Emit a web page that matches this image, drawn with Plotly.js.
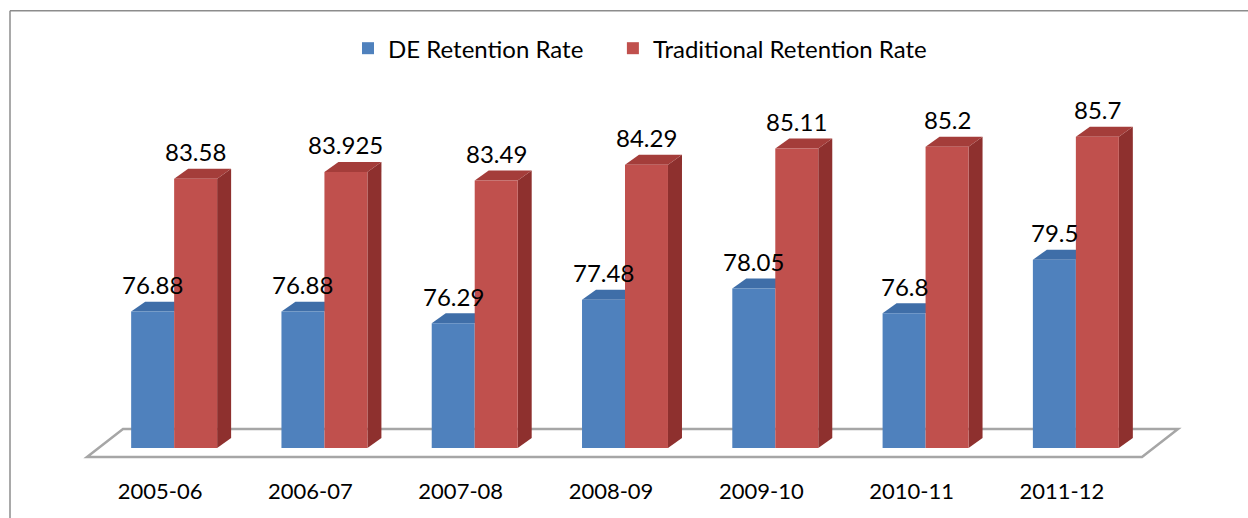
<!DOCTYPE html>
<html>
<head>
<meta charset="utf-8">
<script src="https://cdn.plot.ly/plotly-3.0.1.min.js"></script>
<style>html,body{margin:0;padding:0;background:#fff;}#chart{width:1248px;height:518px;}</style>
</head>
<body>
<div id="chart"></div>
<script>
// ---- data ----
const categories = ["2005-06", "2006-07", "2007-08", "2008-09", "2009-10", "2010-11", "2011-12"];
const deRetention = [76.88, 76.88, 76.29, 77.48, 78.05, 76.8, 79.5];
const traditionalRetention = [83.58, 83.925, 83.49, 84.29, 85.11, 85.2, 85.7];
const deLabels = ["76.88", "76.88", "76.29", "77.48", "78.05", "76.8", "79.5"];
const tradLabels = ["83.58", "83.925", "83.49", "84.29", "85.11", "85.2", "85.7"];
const seriesNames = ["DE Retention Rate", "Traditional Retention Rate"];

// ---- layout geometry ----
const WIDTH = 1248, HEIGHT = 518;
const M = {l: 99, r: 97, t: 110.5, b: 70};
const plotW = WIDTH - M.l - M.r, plotH = HEIGHT - M.t - M.b;
const yBase = 70, yTop = 87;
const xRange = [-0.5, categories.length - 0.5];
const barW = 0.286;
const depthX = 14 * (xRange[1] - xRange[0]) / plotW;   // 3D depth offset in data units
const depthY = 10 * (yTop - yBase) / plotH;
const FONT = "Lato, 'Open Sans', sans-serif";

const blue = "#4F81BD", blueTop = "#3F6EA8";
const red = "#C0504D", redTop = "#A43D3A", redSide = "#8E302E";

// helpers: pixel -> paper
const px2paperX = p => (p - M.l) / plotW;
const px2paperY = p => (HEIGHT - M.b - p) / plotH;

const xs = categories.map((c, i) => i);
const deLen = deRetention.map(v => v - yBase);
const trLen = traditionalRetention.map(v => v - yBase);
const legendPad = "\u00a0\u00a0\u00a0\u00a0";

const traces = [
  {type: "bar", name: seriesNames[0] + legendPad, x: xs, y: deLen, base: yBase, width: barW, offset: -barW,
   marker: {color: blue, line: {width: 0}}, hoverinfo: "skip"},
  {type: "bar", name: seriesNames[1], x: xs, y: trLen, base: yBase, width: barW, offset: 0,
   marker: {color: red, line: {width: 0}}, hoverinfo: "skip"}
];

const shapes = [];
// floor (decoration)
const fl = {fx0: 87, fx1: 1142, fy: 457, bx0: 123, bx1: 1178, by: 429};
shapes.push({type: "path", xref: "paper", yref: "paper", layer: "below",
  path: `M${px2paperX(fl.fx0)},${px2paperY(fl.fy)} L${px2paperX(fl.fx1)},${px2paperY(fl.fy)} L${px2paperX(fl.bx1)},${px2paperY(fl.by)} L${px2paperX(fl.bx0)},${px2paperY(fl.by)} Z`,
  fillcolor: "#ffffff", line: {color: "#a6a6a6", width: 2.5}});
// frame lines
shapes.push({type: "line", xref: "paper", yref: "paper", x0: px2paperX(10), x1: px2paperX(1250), y0: px2paperY(10), y1: px2paperY(10), line: {color: "#8c8c8c", width: 1.5}});
shapes.push({type: "line", xref: "paper", yref: "paper", x0: px2paperX(10), x1: px2paperX(10), y0: px2paperY(10), y1: px2paperY(520), line: {color: "#8c8c8c", width: 1.5}});

// 3D faces
function topFace(xl, xr, v, color) {
  return {type: "path", xref: "x", yref: "y", layer: "below",
    path: `M${xl},${v} L${xr},${v} L${xr + depthX},${v + depthY} L${xl + depthX},${v + depthY} Z`,
    fillcolor: color, line: {width: 0}};
}
function sideFace(xr, v, color) {
  return {type: "path", xref: "x", yref: "y", layer: "below",
    path: `M${xr},${v} L${xr + depthX},${v + depthY} L${xr + depthX},${yBase + depthY} L${xr},${yBase} Z`,
    fillcolor: color, line: {width: 0}};
}
xs.forEach((x, i) => {
  shapes.push(topFace(x - barW, x, deRetention[i], blueTop));
  shapes.push(sideFace(x + barW, traditionalRetention[i], redSide));
  shapes.push(topFace(x, x + barW, traditionalRetention[i], redTop));
});

const annotations = [];
xs.forEach((x, i) => {
  annotations.push({x: x - barW / 2, y: deRetention[i], xref: "x", yref: "y", text: deLabels[i],
    showarrow: false, xanchor: "center", yanchor: "middle", yshift: 27, font: {family: FONT, size: 24, color: "#000"}});
  annotations.push({x: x + barW / 2, y: traditionalRetention[i], xref: "x", yref: "y", text: tradLabels[i],
    showarrow: false, xanchor: "center", yanchor: "middle", yshift: 27, font: {family: FONT, size: 24, color: "#000"}});
});

const layout = {
  width: WIDTH, height: HEIGHT,
  margin: M,
  paper_bgcolor: "#ffffff", plot_bgcolor: "rgba(0,0,0,0)",
  barmode: "overlay",
  showlegend: true,
  legend: {orientation: "h", x: px2paperX(640), xanchor: "center", y: px2paperY(48), yanchor: "middle",
    font: {family: FONT, size: 24, color: "#000"}, bgcolor: "rgba(0,0,0,0)"},
  xaxis: {range: xRange, tickvals: xs, ticktext: categories, showgrid: false, zeroline: false, showline: false,
    ticks: "", ticklabelshift: -14, ticklabelstandoff: 28, tickfont: {family: FONT, size: 22, color: "#000"}, fixedrange: true},
  yaxis: {range: [yBase, yTop], visible: false, showgrid: false, zeroline: false, fixedrange: true},
  shapes: shapes,
  annotations: annotations
};

Plotly.newPlot("chart", traces, layout, {displayModeBar: false, staticPlot: true});
</script>
</body>
</html>
